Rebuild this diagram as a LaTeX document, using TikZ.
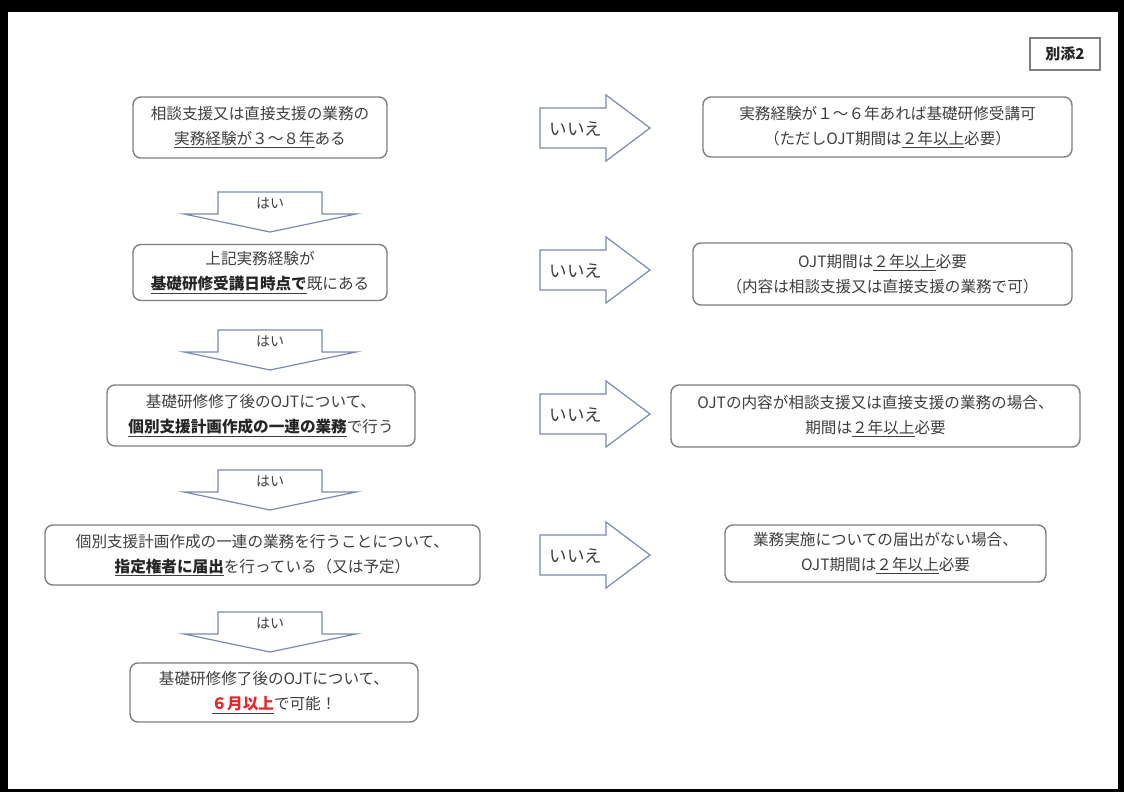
\documentclass[tikz,border=0pt]{standalone}
\usepackage{fontspec}
\setmainfont{Noto Sans CJK JP}
\usetikzlibrary{positioning}
\definecolor{txt}{HTML}{3F3F3F}
\definecolor{boxline}{HTML}{7F7F7F}
\definecolor{arrline}{HTML}{7A8AAE}
\definecolor{hired}{HTML}{E8262A}
\tikzset{
  box/.style={draw=boxline, line width=1.4pt, rounded corners=8pt, fill=white, text=txt,
    align=center, inner sep=0pt, font=\fontsize{15.6}{25}\selectfont},
  darr/.style={draw=arrline, line width=1.2pt, fill=white, line join=miter},
  lbl/.style={text=txt, inner sep=0pt},
  tagbox/.style={draw=boxline, line width=2pt, fill=white, inner sep=0pt,
    font=\fontsize{15}{18}\selectfont\bfseries, text=black!85}
}
\newcommand{\ul}[1]{\underline{#1}}
\newcommand{\bul}[1]{\underline{\textbf{\color{black!85}#1}}}
\newcommand{\downarr}[3]{% x center, y top, name
  \draw[darr] (#1-52,#2) -- (#1+52,#2) -- (#1+52,#2+22) -- (#1+86,#2+22) -- (#1,#2+40)
    -- (#1-86,#2+22) -- (#1-52,#2+22) -- cycle;
  \node[lbl, font=\fontsize{14}{14}\selectfont] (#3) at (#1,#2+11) {はい};}
\newcommand{\rightarr}[3]{% x left, y center, name
  \draw[darr] (#1,#2-20) -- (#1+66,#2-20) -- (#1+66,#2-33) -- (#1+110,#2) -- (#1+66,#2+33)
    -- (#1+66,#2+20) -- (#1,#2+20) -- cycle;
  \node[lbl, font=\fontsize{17.5}{17.5}\selectfont] (#3) at (#1+36,#2+1) {いいえ};}
\begin{document}
\begin{tikzpicture}[x=1pt,y=-1pt]
\useasboundingbox (0,0) rectangle (1124,792);
\fill[black] (0,0) rectangle (1124,792);
\fill[white] (8,12) rectangle (1118,789);

\node[tagbox, minimum width=70pt, minimum height=32pt] (tag) at (1065,54) {別添2};

% left column
\node[box, minimum width=254pt, minimum height=61pt] (q1) at (260,127.5)
  {相談支援又は直接支援の業務の\\\ul{実務経験が３～８年}ある};
\node[box, minimum width=254pt, minimum height=56pt] (q2) at (260,272.5)
  {上記実務経験が\\\bul{基礎研修受講日時点で}既にある};
\node[box, minimum width=308pt, minimum height=61pt] (q3) at (261,415.5)
  {基礎研修修了後のOJTについて、\\\bul{個別支援計画作成の一連の業務}で行う};
\node[box, minimum width=435pt, minimum height=60pt] (q4) at (262.5,555)
  {個別支援計画作成の一連の業務を行うことについて、\\\bul{指定権者に届出}を行っている（又は予定）};
\node[box, minimum width=288pt, minimum height=59pt] (q5) at (274,692.5)
  {基礎研修修了後のOJTについて、\\\underline{\textbf{\color{hired}６月以上}}で可能！};

% down arrows
\downarr{270}{192}{y1}
\downarr{270}{330}{y2}
\downarr{270}{470}{y3}
\downarr{270}{612}{y4}

% right arrows
\rightarr{540}{128}{n1}
\rightarr{540}{270}{n2}
\rightarr{540}{414}{n3}
\rightarr{540}{555}{n4}

% right column
\node[box, minimum width=369pt, minimum height=60pt] (a1) at (887.5,127)
  {実務経験が１～６年あれば基礎研修受講可\\（ただしOJT期間は\ul{２年以上}必要）};
\node[box, minimum width=379pt, minimum height=62pt] (a2) at (882.5,274)
  {OJT期間は\ul{２年以上}必要\\（内容は相談支援又は直接支援の業務で可）};
\node[box, minimum width=409pt, minimum height=62pt] (a3) at (875.5,416)
  {OJTの内容が相談支援又は直接支援の業務の場合、\\期間は\ul{２年以上}必要};
\node[box, minimum width=321pt, minimum height=57pt] (a4) at (885.5,553.5)
  {業務実施についての届出がない場合、\\OJT期間は\ul{２年以上}必要};
\end{tikzpicture}
\end{document}
